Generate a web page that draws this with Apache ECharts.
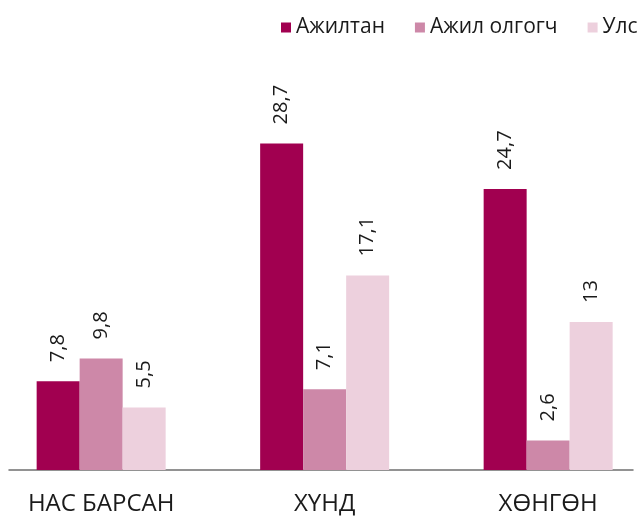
<!DOCTYPE html>
<html>
<head>
<meta charset="utf-8">
<script src="https://cdn.jsdelivr.net/npm/echarts@6/dist/echarts.min.js"></script>
<style>
  html, body { margin: 0; padding: 0; background: #fff; }
  #chart { width: 640px; height: 516px; }
</style>
</head>
<body>
<div id="chart"></div>
<script>
const categories = ['НАС БАРСАН', 'ХҮНД', 'ХӨНГӨН']
const seriesNames = ['Ажилтан', 'Ажил олгогч', 'Улс']
const employee = [7.8, 28.7, 24.7]
const employer = [9.8, 7.1, 2.6]
const state = [5.5, 17.1, 13]

const colors = ['#a10050', '#cd88a8', '#edd0dd']
const font = 'Open Sans'

const chart = echarts.init(document.getElementById('chart'))

function barSeries(name, data) {
  return {
    name: name,
    type: 'bar',
    xAxisIndex: 0,
    yAxisIndex: 0,
    data: data,
    barWidth: 43,
    barGap: '0%',
    label: {
      show: true,
      position: 'top',
      rotate: 90,
      align: 'left',
      verticalAlign: 'middle',
      distance: 19,
      color: '#1a1a1a',
      fontFamily: font,
      fontSize: 20,
      formatter: p => String(p.value).replace('.', ',')
    }
  }
}

chart.setOption({
  color: colors,
  animation: false,
  legend: {
    left: 276,
    top: 12,
    width: 600,
    itemWidth: 10,
    itemHeight: 10,
    itemGap: 30,
    icon: 'rect',
    data: seriesNames,
    textStyle: {
      color: '#1a1a1a',
      fontFamily: font,
      fontSize: 21
    }
  },
  grid: [
    { left: -10.6, right: -19.9, top: 128.6, bottom: 46, outerBoundsMode: 'none', containLabel: false },
    { left: 9, right: 7, top: 128.6, bottom: 46, outerBoundsMode: 'none', containLabel: false }
  ],
  xAxis: [{
    type: 'category',
    gridIndex: 0,
    data: categories,
    axisLine: { show: false },
    axisTick: { show: false },
    axisLabel: {
      margin: 22,
      color: '#1a1a1a',
      fontFamily: font,
      fontSize: 24
    }
  }, {
    type: 'category',
    gridIndex: 1,
    data: [''],
    axisLine: { lineStyle: { color: '#6f6f6f', width: 1.5 } },
    axisTick: { show: false },
    axisLabel: { show: false }
  }],
  yAxis: [{
    type: 'value',
    gridIndex: 0,
    min: 0,
    max: 30,
    interval: 10,
    show: false
  }, {
    type: 'value',
    gridIndex: 1,
    min: 0,
    max: 30,
    show: false
  }],
  series: [
    barSeries(seriesNames[0], employee),
    barSeries(seriesNames[1], employer),
    barSeries(seriesNames[2], state)
  ]
})
</script>
</body>
</html>
